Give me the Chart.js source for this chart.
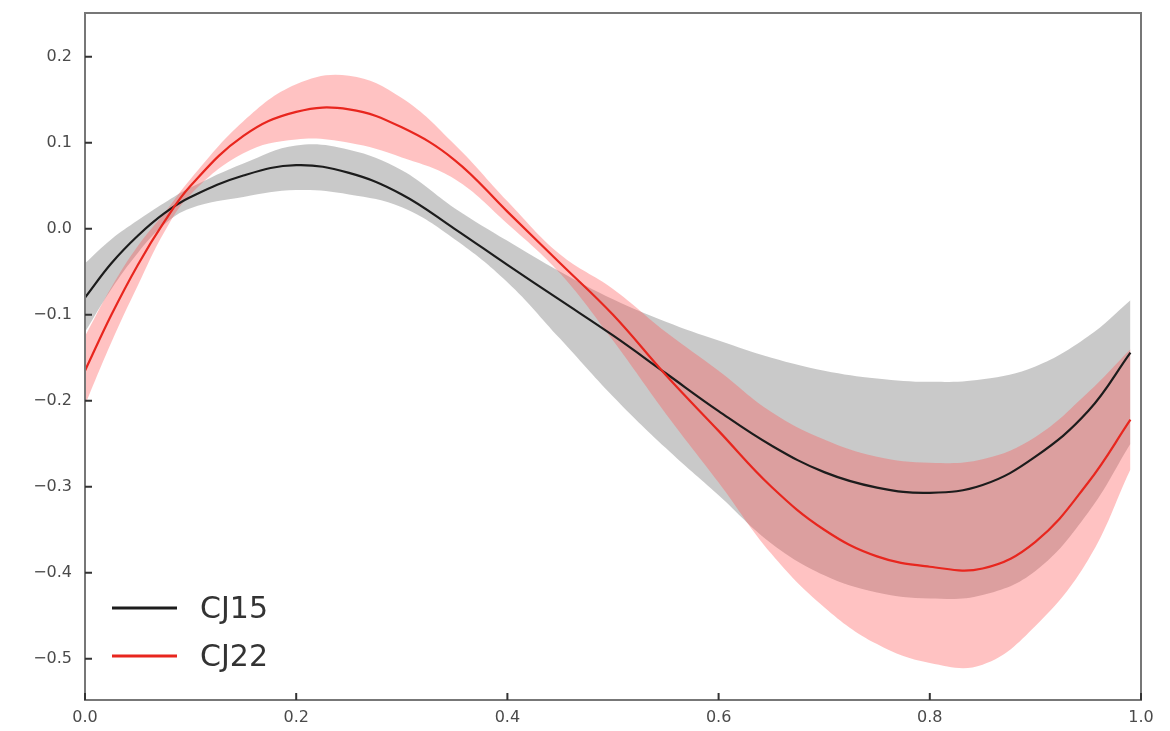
<!DOCTYPE html>
<html>
<head>
<meta charset="utf-8">
<script src="https://cdn.jsdelivr.net/npm/chart.js@4.4.1/dist/chart.umd.min.js"></script>
<style>
  html, body { margin: 0; padding: 0; background: #ffffff; }
  #wrap { width: 1170px; height: 731px; }
</style>
</head>
<body>
<div id="wrap"><canvas id="c" width="1170" height="731"></canvas></div>
<script>
// ---- Data ----
const xValues = [0, 0.025, 0.05, 0.075, 0.1, 0.15, 0.2, 0.25, 0.3, 0.35, 0.4, 0.45, 0.5, 0.55, 0.6, 0.65, 0.7, 0.75, 0.8, 0.85, 0.9, 0.95, 0.99];

const cj15Central = [-0.080, -0.040, -0.008, 0.018, 0.037, 0.062, 0.074, 0.065, 0.040, 0.000, -0.042, -0.083, -0.124, -0.168, -0.212, -0.252, -0.283, -0.301, -0.307, -0.298, -0.265, -0.212, -0.144];
const cj15Upper   = [-0.040, -0.012, 0.010, 0.030, 0.048, 0.076, 0.097, 0.092, 0.068, 0.024, -0.014, -0.050, -0.082, -0.108, -0.130, -0.150, -0.165, -0.174, -0.178, -0.175, -0.160, -0.125, -0.083];
const cj15Lower   = [-0.120, -0.070, -0.028, 0.005, 0.024, 0.037, 0.045, 0.040, 0.025, -0.012, -0.062, -0.128, -0.195, -0.255, -0.310, -0.366, -0.403, -0.423, -0.430, -0.426, -0.398, -0.330, -0.250];

const cj22Central = [-0.165, -0.100, -0.042, 0.008, 0.050, 0.108, 0.136, 0.139, 0.118, 0.080, 0.020, -0.040, -0.100, -0.170, -0.235, -0.300, -0.350, -0.381, -0.393, -0.395, -0.364, -0.295, -0.222];
const cj22Upper   = [-0.125, -0.068, -0.020, 0.018, 0.058, 0.125, 0.168, 0.178, 0.152, 0.098, 0.032, -0.030, -0.070, -0.120, -0.165, -0.213, -0.245, -0.265, -0.272, -0.268, -0.242, -0.190, -0.140];
const cj22Lower   = [-0.205, -0.132, -0.066, -0.004, 0.040, 0.088, 0.104, 0.100, 0.083, 0.058, 0.006, -0.052, -0.130, -0.215, -0.295, -0.378, -0.440, -0.483, -0.505, -0.507, -0.462, -0.385, -0.280];

const seriesNames = ['CJ15', 'CJ22'];
const xTickValues = [0.0, 0.2, 0.4, 0.6, 0.8, 1.0];
const yTickValues = [-0.5, -0.4, -0.3, -0.2, -0.1, 0.0, 0.1, 0.2];

// ---- helpers ----
const pts = (ys) => xValues.map((x, i) => ({ x: x, y: ys[i] }));
const fmt = (v) => {
  const s = Math.abs(v).toFixed(1);
  return (v < -1e-9 ? '\u2212' : '') + s;
};

const FONT = "'DejaVu Sans', 'Liberation Sans', sans-serif";
const GRAY_BAND = 'rgba(120,120,120,0.40)';
const RED_BAND = 'rgba(255,80,80,0.35)';
const BLACK = '#1c1c1c';
const RED = '#e8261e';

const framePlugin = {
  id: 'frame',
  afterDatasetsDraw(chart) {
    const { ctx, chartArea: a, scales } = chart;
    ctx.save();
    ctx.strokeStyle = '#777';
    ctx.lineWidth = 2;
    ctx.strokeRect(a.left, a.top, a.right - a.left, a.bottom - a.top);
    ctx.strokeStyle = '#333';
    ctx.lineWidth = 2;
    ctx.beginPath();
    yTickValues.forEach(v => {
      const y = scales.y.getPixelForValue(v);
      ctx.moveTo(a.left, y); ctx.lineTo(a.left + 7, y);
    });
    xTickValues.forEach(v => {
      const x = scales.x.getPixelForValue(v);
      ctx.moveTo(x, a.bottom); ctx.lineTo(x, a.bottom - 7);
    });
    ctx.stroke();
    ctx.restore();
  }
};

const legendPlugin = {
  id: 'innerLegend',
  afterDraw(chart) {
    const { ctx, chartArea: a } = chart;
    const items = chart.data.datasets.filter(d => d.showInLegend);
    ctx.save();
    items.forEach((d, i) => {
      const y = a.bottom - 92 + i * 48;
      ctx.strokeStyle = d.borderColor;
      ctx.lineWidth = 3;
      ctx.beginPath();
      ctx.moveTo(a.left + 27, y);
      ctx.lineTo(a.left + 92, y);
      ctx.stroke();
      ctx.fillStyle = '#333';
      ctx.font = '30px ' + FONT;
      ctx.textBaseline = 'middle';
      ctx.textAlign = 'left';
      ctx.fillText(d.label, a.left + 115, y + 2);
    });
    ctx.restore();
  }
};

const bandDefaults = { borderWidth: 0, pointRadius: 0, tension: 0.4, showInLegend: false };
const lineDefaults = { borderWidth: 2.2, pointRadius: 0, tension: 0.4, fill: false, showInLegend: true };

new Chart(document.getElementById('c'), {
  type: 'line',
  data: {
    datasets: [
      // 0,1: CJ15 band
      Object.assign({ label: '', data: pts(cj15Upper), fill: 1, backgroundColor: GRAY_BAND, borderColor: 'rgba(0,0,0,0)', order: 4 }, bandDefaults),
      Object.assign({ label: '', data: pts(cj15Lower), fill: false, borderColor: 'rgba(0,0,0,0)', order: 5 }, bandDefaults),
      // 2,3: CJ22 band
      Object.assign({ label: '', data: pts(cj22Upper), fill: 3, backgroundColor: RED_BAND, borderColor: 'rgba(0,0,0,0)', order: 2 }, bandDefaults),
      Object.assign({ label: '', data: pts(cj22Lower), fill: false, borderColor: 'rgba(0,0,0,0)', order: 3 }, bandDefaults),
      // 4,5: central lines
      Object.assign({ label: seriesNames[0], data: pts(cj15Central), borderColor: BLACK, order: 1 }, lineDefaults),
      Object.assign({ label: seriesNames[1], data: pts(cj22Central), borderColor: RED, order: 0 }, lineDefaults)
    ]
  },
  options: {
    responsive: false,
    animation: false,
    events: [],
    layout: { padding: { left: 0, right: 29, top: 13, bottom: 0 } },
    plugins: { legend: { display: false }, tooltip: { enabled: false } },
    scales: {
      x: {
        type: 'linear',
        min: 0, max: 1,
        grid: { display: false, drawTicks: false },
        border: { display: false },
        afterBuildTicks: (s) => { s.ticks = xTickValues.map(v => ({ value: v })); },
        afterFit: (s) => { s.height = 31; s.paddingLeft = 0; s.paddingRight = 0; },
        ticks: { padding: 8, color: '#4a4a4a', font: { family: FONT, size: 16 }, callback: (v) => fmt(v), maxRotation: 0, autoSkip: false }
      },
      y: {
        type: 'linear',
        min: -0.548, max: 0.251,
        grid: { display: false, drawTicks: false },
        border: { display: false },
        afterBuildTicks: (s) => { s.ticks = yTickValues.map(v => ({ value: v })); },
        afterFit: (s) => { s.width = 85; s.paddingTop = 0; s.paddingBottom = 0; },
        ticks: { padding: 13, color: '#4a4a4a', font: { family: FONT, size: 16 }, callback: (v) => fmt(v), autoSkip: false }
      }
    }
  },
  plugins: [framePlugin, legendPlugin]
});
</script>
</body>
</html>
